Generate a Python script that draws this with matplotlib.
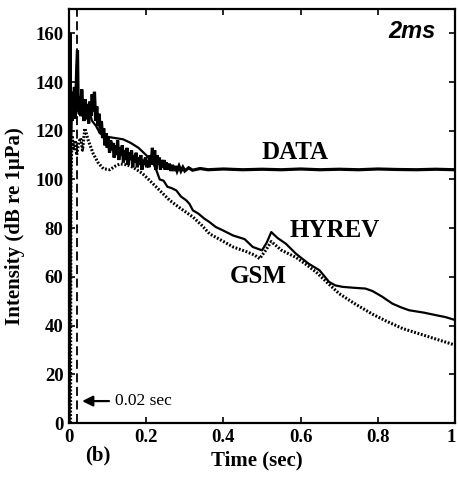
import numpy as np
import matplotlib
matplotlib.use("Agg")
import matplotlib.pyplot as plt
import matplotlib.transforms as mtransforms

# ---------------- data ----------------
data_t = [0.000, 0.002, 0.003, 0.004, 0.006, 0.008, 0.010, 0.012, 0.014, 0.016, 0.018, 0.020, 0.022,
          0.024, 0.027, 0.030, 0.033, 0.036, 0.039, 0.042, 0.045, 0.048, 0.051,
          0.054, 0.057, 0.060, 0.063, 0.066, 0.069, 0.072, 0.075, 0.078, 0.081,
          0.084, 0.087, 0.090, 0.093, 0.096, 0.099, 0.102, 0.105, 0.108, 0.111,
          0.114, 0.117, 0.120, 0.123, 0.126, 0.129, 0.132, 0.135, 0.138, 0.141,
          0.144, 0.147, 0.150, 0.153, 0.156, 0.159, 0.162, 0.165, 0.168, 0.171,
          0.174, 0.177, 0.180, 0.183, 0.186, 0.189, 0.192, 0.195, 0.198, 0.201,
          0.204, 0.207, 0.210, 0.213, 0.216, 0.219, 0.222, 0.225, 0.228, 0.231,
          0.234, 0.237, 0.240, 0.243, 0.246, 0.249,
          0.252, 0.256, 0.260, 0.264, 0.268, 0.272, 0.276, 0.280, 0.285, 0.290, 0.295, 0.300, 0.31, 0.32,
          0.34, 0.36, 0.40, 0.45, 0.50, 0.55, 0.60, 0.65, 0.70, 0.75, 0.80, 0.85, 0.90, 0.95, 1.00]
data_db = [0, 95, 160, 118, 131, 124, 136, 127, 138, 125, 134, 146, 153,
           128, 134, 126, 137, 129, 124, 133, 127, 131, 123,
           132, 126, 135, 128, 136, 124, 130, 122, 127, 119,
           124, 117, 121, 114, 119, 113, 117, 111, 116, 112,
           115, 109, 114, 110, 116, 108, 113, 110, 114, 107,
           112, 108, 113, 106, 111, 108, 112, 105, 110, 107,
           111, 105, 109, 106, 110, 104, 108, 106, 109, 105,
           108, 105, 110, 106, 113, 107, 112, 104, 110, 106,
           109, 104, 108, 105, 108, 104,
           107, 104, 106.5, 103.5, 106, 103.5, 105.5, 103.5, 105.5, 103.5, 105, 103.5, 104.8, 103.8,
           104.5, 104, 104.3, 104, 104.2, 104, 104.3, 104, 104.2, 104, 104.3, 104.1, 104, 104.2, 104]

hyrev_t = [0.0, 0.004, 0.006, 0.010, 0.015, 0.020, 0.025, 0.030, 0.035, 0.040, 0.045, 0.050,
           0.060, 0.070, 0.080, 0.090, 0.100, 0.120, 0.140, 0.160, 0.180, 0.200, 0.210, 0.220,
           0.227, 0.235, 0.245, 0.255, 0.265, 0.278, 0.290, 0.304, 0.312, 0.321, 0.335, 0.350,
           0.364, 0.380, 0.400, 0.425, 0.455, 0.476, 0.500, 0.512, 0.524, 0.540, 0.562, 0.588,
           0.620, 0.649, 0.674, 0.690, 0.709, 0.740, 0.768, 0.786, 0.810, 0.838, 0.860, 0.881,
           0.920, 0.950, 0.975, 1.000]
hyrev_db = [0, 60, 125, 132, 128, 135, 127, 133, 126, 131, 125, 129,
            124, 122, 119, 118, 117.5, 117, 116.5, 115, 113, 110, 108, 106,
            103.5, 100, 99.5, 97, 96.5, 95.5, 93, 91.4, 90, 87.3, 86, 84,
            82.5, 80.5, 79, 77, 75.5, 72.3, 70.9, 74, 78.4, 76, 73.6, 69.5,
            65.5, 62.7, 57.9, 56.5, 55.9, 55.5, 55.2, 54.2, 52, 49, 47.5, 46.3,
            45.3, 44.3, 43.5, 42.3]

gsm_t = [0.004, 0.005, 0.008, 0.012, 0.016, 0.020, 0.025, 0.030, 0.035, 0.041,
         0.050, 0.063, 0.075, 0.089, 0.106, 0.120, 0.132, 0.150, 0.166, 0.190,
         0.209, 0.235, 0.261, 0.290, 0.321, 0.345, 0.364, 0.395, 0.425, 0.459,
         0.480, 0.494, 0.510, 0.524, 0.550, 0.588, 0.615, 0.640, 0.670, 0.700,
         0.740, 0.769, 0.786, 0.820, 0.864, 0.900, 0.940, 0.970, 1.000]
gsm_db = [0, 100, 118, 112, 116, 110, 115, 117, 112, 121,
          116, 110.5, 107, 104.4, 104, 105.5, 106.4, 106, 105, 102.5,
          99.6, 95.5, 91.4, 88, 84.6, 81, 77.7, 75, 72.3, 70.4,
          69, 67.5, 71, 74.5, 71, 68, 65, 62, 57.5, 53.1,
          49, 46.3, 44.7, 42, 38.8, 37, 35, 33.5, 32]

marker_t = 0.02
x_ticks = [0, 0.2, 0.4, 0.6, 0.8, 1]
x_tick_labels = ["0", "0.2", "0.4", "0.6", "0.8", "1"]
y_ticks = [0, 20, 40, 60, 80, 100, 120, 140, 160]

# ---------------- figure ----------------
serif = ["Liberation Serif", "DejaVu Serif"]
fig = plt.figure(figsize=(4.58, 4.8), dpi=100)
W, H = 458, 480
ax = fig.add_axes([69 / W, 1 - 423 / H, (455 - 69) / W, (423 - 9) / H])

ax.plot(data_t, data_db, color="black", lw=2.3, solid_joinstyle="miter")
ax.plot(hyrev_t, hyrev_db, color="black", lw=1.6)
ax.plot(gsm_t, gsm_db, color="black", lw=2.2, linestyle=(0, (0.6, 0.55)))
ax.axvline(marker_t, color="black", lw=1.3, linestyle=(0, (5, 2.5)))

ax.set_xlim(0, 1)
ax.set_ylim(0, 170)
ax.set_xticks(x_ticks)
ax.set_xticklabels(x_tick_labels)
ax.set_yticks(y_ticks)
ax.tick_params(direction="in", length=4, width=1.2, top=True, right=True, pad=4)
for lab in ax.get_xticklabels() + ax.get_yticklabels():
    lab.set_fontfamily(serif)
    lab.set_fontweight("bold")
    lab.set_fontsize(13.5)
last = ax.get_xticklabels()[-1]
last.set_transform(last.get_transform() + mtransforms.ScaledTranslation(-3 / 72, 0, fig.dpi_scale_trans))
for s in ax.spines.values():
    s.set_linewidth(1.6)

ax.text(0.585, 106.5, "DATA", family=serif, weight="bold", fontsize=18, ha="center", va="bottom")
ax.text(0.688, 79, "HYREV", family=serif, weight="bold", fontsize=18, ha="center", va="center")
ax.text(0.49, 60, "GSM", family=serif, weight="bold", fontsize=18, ha="center", va="center")
ax.annotate("0.02 sec", xy=(0.034, 9), xytext=(0.118, 9), family=serif, fontsize=12.5,
            va="center", ha="left",
            arrowprops=dict(arrowstyle="-|>,head_length=0.5,head_width=0.25", color="black", lw=1.6,
                            shrinkA=2, shrinkB=0))

fig.text(412 / W, 1 - 31 / H, "2ms", family=["Liberation Sans", "DejaVu Sans"], weight="bold",
         style="italic", fontsize=17, ha="center", va="center")
fig.text(257 / W, 1 - 460 / H, "Time (sec)", family=serif, weight="bold", fontsize=15,
         ha="center", va="center")
fig.text(98 / W, 1 - 455 / H, "(b)", family=serif, weight="bold", fontsize=15,
         ha="center", va="center")
fig.text(15 / W, 1 - 226 / H, "Intensity (dB re 1\u03bcPa)", family=serif, weight="bold",
         fontsize=15, ha="center", va="center", rotation=90)

fig.savefig("out.png", dpi=100)
